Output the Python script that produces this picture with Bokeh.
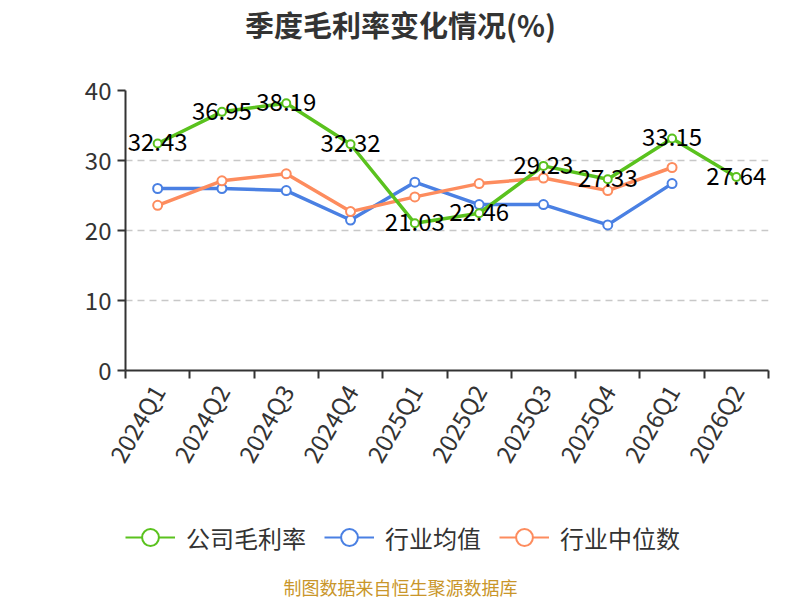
import math
from bokeh.plotting import figure
from bokeh.layouts import column
from bokeh.models import (Range1d, FixedTicker, Label, Legend, LegendItem, ColumnDataSource)
from bokeh.core.properties import value
from bokeh.embed import file_html
from bokeh.resources import INLINE

categories = ["2024Q1", "2024Q2", "2024Q3", "2024Q4", "2025Q1", "2025Q2",
              "2025Q3", "2025Q4", "2026Q1", "2026Q2"]
company = [32.43, 36.95, 38.19, 32.32, 21.03, 22.46, 29.23, 27.33, 33.15, 27.64]
industry_avg = [26.0, 26.0, 25.7, 21.5, 26.9, 23.7, 23.7, 20.8, 26.7]
industry_median = [23.6, 27.1, 28.1, 22.7, 24.8, 26.7, 27.5, 25.7, 29.0]
y_ticks = [0, 10, 20, 30, 40]

title_text = "季度毛利率变化情况(%)"
source_text = "制图数据来自恒生聚源数据库"
series_names = ["公司毛利率", "行业均值", "行业中位数"]
y_unit = "(%)"

GREEN = "#5ac21e"
BLUE = "#4a80e3"
ORANGE = "#fd8c5e"
FONT = "Noto Sans CJK SC"
W = 800
BL, BR = 125, 32  # left / right borders shared by all stacked figures

def blank_fig(h):
    f = figure(width=W, height=h, output_backend="svg", toolbar_location=None,
               x_range=Range1d(BL, W - BR), y_range=Range1d(0, h),
               min_border_left=BL, min_border_right=BR,
               min_border_top=0, min_border_bottom=0)
    f.axis.visible = False
    f.grid.visible = False
    f.outline_line_color = None
    return f

# ---- title ----
t_fig = blank_fig(60)
t_fig.add_layout(Label(x=400, y=60 - 23, text=title_text, text_align="center",
                       text_baseline="middle", text_font=FONT, text_font_size="29px",
                       text_font_style="bold", text_color="#333333"))

# ---- main plot ----
xs = [i + 0.5 for i in range(len(categories))]

p = figure(width=W, height=420, output_backend="svg", toolbar_location=None,
           x_range=Range1d(0, len(categories)), y_range=Range1d(0, 40),
           min_border_left=BL, min_border_right=BR, min_border_top=30,
           min_border_bottom=107)
p.outline_line_color = None

p.xaxis.ticker = FixedTicker(ticks=xs, minor_ticks=list(range(len(categories) + 1)))
p.xaxis.major_label_overrides = {x: c for x, c in zip(xs, categories)}
p.xaxis.major_tick_out = 0
p.xaxis.major_tick_in = 0
p.xaxis.minor_tick_out = 8
p.xaxis.minor_tick_in = 0
p.xaxis.minor_tick_line_color = "#333333"
p.xaxis.minor_tick_line_width = 2
p.xaxis.major_label_orientation = math.pi / 3
p.xaxis.major_label_standoff = 8

p.yaxis.ticker = FixedTicker(ticks=y_ticks, minor_ticks=[])
p.yaxis.major_tick_out = 8
p.yaxis.major_tick_in = 0
p.yaxis.major_label_standoff = 6

for ax in (p.xaxis, p.yaxis):
    ax.axis_line_color = "#333333"
    ax.axis_line_width = 2
    ax.major_tick_line_color = "#333333"
    ax.major_tick_line_width = 2
    ax.major_label_text_font = FONT
    ax.major_label_text_font_size = "24px"
    ax.major_label_text_color = "#333333"

p.xgrid.grid_line_color = None
p.ygrid.grid_line_color = "#c8c8c8"
p.ygrid.grid_line_dash = "7 5"
p.ygrid.grid_line_width = 1.5

src_c = ColumnDataSource(dict(x=xs, y=company, t=["%.2f" % v for v in company]))
src_a = ColumnDataSource(dict(x=xs[:len(industry_avg)], y=industry_avg))
src_m = ColumnDataSource(dict(x=xs[:len(industry_median)], y=industry_median))

p.line("x", "y", source=src_a, line_color=BLUE, line_width=3.5)
p.scatter("x", "y", source=src_a, size=9, fill_color="white", line_color=BLUE, line_width=2)
p.line("x", "y", source=src_m, line_color=ORANGE, line_width=3.5)
p.scatter("x", "y", source=src_m, size=9, fill_color="white", line_color=ORANGE, line_width=2)
p.line("x", "y", source=src_c, line_color=GREEN, line_width=3.5)
p.scatter("x", "y", source=src_c, size=8, fill_color="white", line_color=GREEN, line_width=2)

p.text("x", "y", text="t", source=src_c, text_align="center", text_baseline="middle",
       text_font=value(FONT), text_font_size="24px", text_color="#000000", y_offset=-1)

p.add_layout(Label(x=-62, y=248, x_units="screen", y_units="screen", text=y_unit,
                   angle=math.pi / 2, text_align="center", text_baseline="middle",
                   text_font=FONT, text_font_size="16px", text_color="#ff0000"))

# ---- legend + source ----
LH = 120
l_fig = blank_fig(LH)
items = []
for name, col in zip(series_names, [GREEN, BLUE, ORANGE]):
    lr = l_fig.line([-100, -90], [-100, -90], line_color=col, line_width=2)
    sr = l_fig.scatter([-100], [-100], size=10, fill_color="white", line_color=col, line_width=2)
    items.append(LegendItem(label=name, renderers=[lr, sr]))
legend = Legend(items=items, orientation="horizontal", location=(0, LH - 57 - 21),
                glyph_width=50, glyph_height=42, label_height=24,
                label_standoff=11, spacing=18, padding=0, margin=0,
                border_line_color=None, background_fill_alpha=0,
                label_text_font=FONT, label_text_font_size="24px",
                label_text_color="#333333")
l_fig.add_layout(legend, "center")
l_fig.add_layout(Label(x=400, y=LH - 106, text=source_text, text_align="center",
                       text_baseline="middle", text_font=FONT, text_font_size="18px",
                       text_color="#c9962a"))

layout = column(t_fig, p, l_fig, spacing=0)
open("out.html", "w").write(file_html(layout, INLINE))
